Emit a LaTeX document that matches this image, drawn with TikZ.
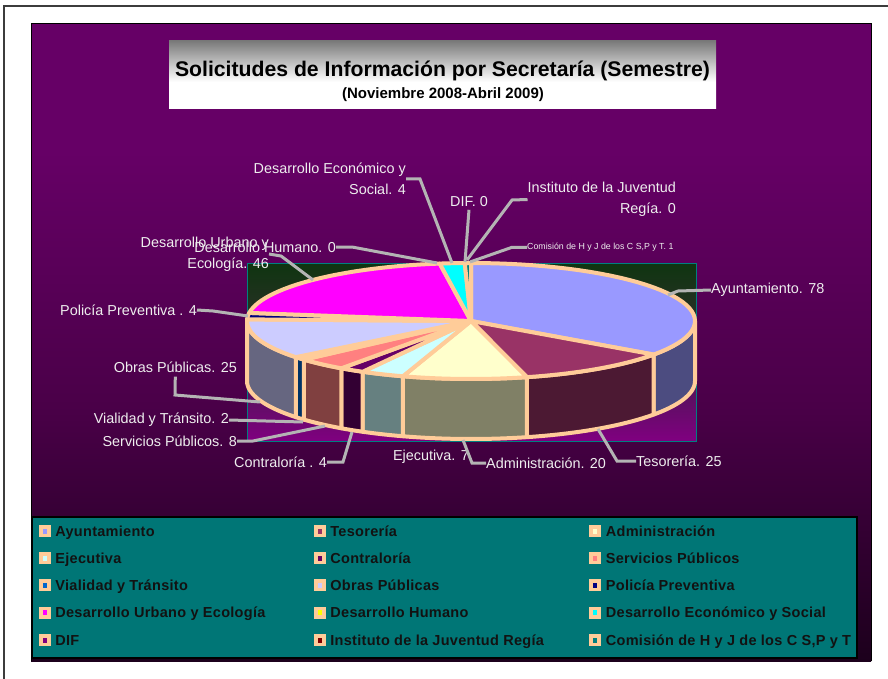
\documentclass[tikz,border=0pt]{standalone}
\usepackage{fontspec}
\setmainfont{Liberation Sans}
\newfontfamily\legfont[LetterSpace=2]{Liberation Sans}
\usetikzlibrary{positioning}

\definecolor{peach}{HTML}{FFCC99}
\definecolor{leadgray}{HTML}{B4B4B4}
\definecolor{lbltext}{HTML}{EEEEEE}
\definecolor{legtext}{HTML}{121212}
\definecolor{legteal}{HTML}{007676}
\definecolor{framegray}{HTML}{3C3C3C}
\definecolor{bgtop}{HTML}{660066}
\definecolor{bgmid}{HTML}{4A0048}
\definecolor{bgbot}{HTML}{1C001C}
\definecolor{ptop}{HTML}{0F3510}
\definecolor{pmid}{HTML}{302E2C}
\definecolor{plow}{HTML}{5A1060}
\definecolor{pbot}{HTML}{800080}
\definecolor{ttop}{HTML}{7A7A7A}

\definecolor{cAyu}{HTML}{9999FF} \definecolor{sAyu}{HTML}{4C4C80}
\definecolor{cTes}{HTML}{993366} \definecolor{sTes}{HTML}{4C1933}
\definecolor{cAdm}{HTML}{FFFFCC} \definecolor{sAdm}{HTML}{808066}
\definecolor{cEje}{HTML}{CCFFFF} \definecolor{sEje}{HTML}{668080}
\definecolor{cCon}{HTML}{660066} \definecolor{sCon}{HTML}{330033}
\definecolor{cSer}{HTML}{FF8080} \definecolor{sSer}{HTML}{804040}
\definecolor{cVia}{HTML}{0066CC} \definecolor{sVia}{HTML}{003366}
\definecolor{cObr}{HTML}{CCCCFF} \definecolor{sObr}{HTML}{666680}
\definecolor{cPol}{HTML}{000080}
\definecolor{cDUr}{HTML}{FF00FF}
\definecolor{cDHu}{HTML}{FFFF00}
\definecolor{cDEc}{HTML}{00FFFF}
\definecolor{cDIF}{HTML}{800080}
\definecolor{cIns}{HTML}{800000}
\definecolor{cCom}{HTML}{008080}

\pgfdeclareverticalshading{chartbg}{100bp}{color(0bp)=(bgbot); color(25bp)=(bgbot); color(45bp)=(bgmid); color(65bp)=(bgtop); color(100bp)=(bgtop)}
\pgfdeclareverticalshading{plotbg}{100bp}{color(0bp)=(pbot); color(25bp)=(pbot); color(38bp)=(plow); color(55bp)=(pmid); color(75bp)=(ptop); color(100bp)=(ptop)}
\pgfdeclareverticalshading{titlebg}{100bp}{color(0bp)=(white); color(25bp)=(white); color(45bp)=(white); color(75bp)=(ttop); color(100bp)=(ttop)}

\begin{document}
\begin{tikzpicture}[x=1pt, y=-1pt,
  slice/.style = {draw=peach, line width=4pt, line join=round},
  leader/.style = {draw=leadgray, line width=3pt},
  lbl/.style = {font=\fontsize{14.4}{21}\selectfont, text=lbltext, inner sep=0pt},
  legsw/.style = {fill=peach, minimum width=12pt, minimum height=12pt, inner sep=0pt,
    path picture={\fill[#1] ([xshift=-2pt,yshift=-2.5pt]path picture bounding box.center) rectangle ++(4pt,5pt);}},
  legtxt/.style = {font=\legfont\bfseries\fontsize{14.5}{16}\selectfont, text=legtext, inner sep=0pt,
    text height=11pt, text depth=0.6pt}]

\useasboundingbox (0,0) rectangle (888,679);
\fill[white] (0,0) rectangle (888,679);
\draw[framegray, line width=1.5pt] (4,679) -- (4,6) -- (888,6);

% chart area
\shade[shading=chartbg] (31,24) rectangle (871,661);
\draw[black, line width=1pt] (31,661) -- (31,24) -- (871,24) -- (871,661);

% title
\shade[shading=titlebg] (169,41) rectangle (716,109);
\node[font=\bfseries\fontsize{21.2}{24}\selectfont, inner sep=0pt] (title) at (442.5,70.5) {Solicitudes de Información por Secretaría (Semestre)};
\node[font=\bfseries\fontsize{15}{17}\selectfont, inner sep=0pt] (subtitle) at (443,95) {(Noviembre 2008-Abril 2009)};

% plot area
\shade[shading=plotbg] (247,263) rectangle (696,441);
\draw[cCom, line width=0.8pt] (247,263) rectangle (696,441);

% pie sides
\filldraw[slice, fill=sAyu] plot[domain=-35.36:0, samples=20] ({471+224*cos(\x)}, {321-58*sin(\x)}) -- plot[domain=0:-35.36, samples=20] ({471+224*cos(\x)}, {381-58*sin(\x)}) -- cycle;
\filldraw[slice, fill=sTes] plot[domain=-75.54:-35.36, samples=20] ({471+224*cos(\x)}, {321-58*sin(\x)}) -- plot[domain=-35.36:-75.54, samples=20] ({471+224*cos(\x)}, {381-58*sin(\x)}) -- cycle;
\filldraw[slice, fill=sAdm] plot[domain=-107.68:-75.54, samples=20] ({471+224*cos(\x)}, {321-58*sin(\x)}) -- plot[domain=-75.54:-107.68, samples=20] ({471+224*cos(\x)}, {381-58*sin(\x)}) -- cycle;
\filldraw[slice, fill=sEje] plot[domain=-118.93:-107.68, samples=8] ({471+224*cos(\x)}, {321-58*sin(\x)}) -- plot[domain=-107.68:-118.93, samples=8] ({471+224*cos(\x)}, {381-58*sin(\x)}) -- cycle;
\filldraw[slice, fill=sCon] plot[domain=-125.36:-118.93, samples=6] ({471+224*cos(\x)}, {321-58*sin(\x)}) -- plot[domain=-118.93:-125.36, samples=6] ({471+224*cos(\x)}, {381-58*sin(\x)}) -- cycle;
\filldraw[slice, fill=sSer] plot[domain=-138.22:-125.36, samples=8] ({471+224*cos(\x)}, {321-58*sin(\x)}) -- plot[domain=-125.36:-138.22, samples=8] ({471+224*cos(\x)}, {381-58*sin(\x)}) -- cycle;
\filldraw[slice, fill=sVia] plot[domain=-141.43:-138.22, samples=4] ({471+224*cos(\x)}, {321-58*sin(\x)}) -- plot[domain=-138.22:-141.43, samples=4] ({471+224*cos(\x)}, {381-58*sin(\x)}) -- cycle;
\filldraw[slice, fill=sObr] plot[domain=-180:-141.43, samples=20] ({471+224*cos(\x)}, {321-58*sin(\x)}) -- plot[domain=-141.43:-180, samples=20] ({471+224*cos(\x)}, {381-58*sin(\x)}) -- cycle;

% pie tops
\coordinate (pc) at (471,321);
\filldraw[slice, fill=cAyu] (pc) -- plot[domain=-35.36:90, samples=40] ({471+224*cos(\x)}, {321-58*sin(\x)}) -- cycle;
\filldraw[slice, fill=cTes] (pc) -- plot[domain=-75.54:-35.36, samples=20] ({471+224*cos(\x)}, {321-58*sin(\x)}) -- cycle;
\filldraw[slice, fill=cAdm] (pc) -- plot[domain=-107.68:-75.54, samples=20] ({471+224*cos(\x)}, {321-58*sin(\x)}) -- cycle;
\filldraw[slice, fill=cEje] (pc) -- plot[domain=-118.93:-107.68, samples=8] ({471+224*cos(\x)}, {321-58*sin(\x)}) -- cycle;
\filldraw[slice, fill=cCon] (pc) -- plot[domain=-125.36:-118.93, samples=6] ({471+224*cos(\x)}, {321-58*sin(\x)}) -- cycle;
\filldraw[slice, fill=cSer] (pc) -- plot[domain=-138.22:-125.36, samples=8] ({471+224*cos(\x)}, {321-58*sin(\x)}) -- cycle;
\filldraw[slice, fill=cVia] (pc) -- plot[domain=-141.43:-138.22, samples=4] ({471+224*cos(\x)}, {321-58*sin(\x)}) -- cycle;
\filldraw[slice, fill=cObr] (pc) -- plot[domain=-181.61:-141.43, samples=20] ({471+224*cos(\x)}, {321-58*sin(\x)}) -- cycle;
\filldraw[slice, fill=cPol] (pc) -- plot[domain=-188.04:-181.61, samples=6] ({471+224*cos(\x)}, {321-58*sin(\x)}) -- cycle;
\filldraw[slice, fill=cDUr] (pc) -- plot[domain=-261.97:-188.04, samples=30] ({471+224*cos(\x)}, {321-58*sin(\x)}) -- cycle;
\filldraw[slice, fill=cDEc] (pc) -- plot[domain=-268.4:-261.97, samples=6] ({471+224*cos(\x)}, {321-58*sin(\x)}) -- cycle;
\filldraw[slice, fill=cCom] (pc) -- plot[domain=-270:-268.4, samples=3] ({471+224*cos(\x)}, {321-58*sin(\x)}) -- cycle;

% labels
\node[lbl, anchor=west] (lAyu) at (711,290) {Ayuntamiento. 78};
\node[lbl, anchor=west] (lTes) at (636,461) {Tesorería. 25};
\node[lbl, anchor=west] (lAdm) at (486,463) {Administración. 20};
\node[lbl, anchor=east] (lEje) at (469,457) {Ejecutiva. 7};
\node[lbl, anchor=east] (lCon) at (327,462) {Contraloría . 4};
\node[lbl, anchor=east] (lSer) at (237,441) {Servicios Públicos. 8};
\node[lbl, anchor=east] (lVia) at (229,420) {Vialidad y Tránsito. 2};
\node[lbl, anchor=east] (lObr) at (237,367) {Obras Públicas. 25};
\node[lbl, anchor=east] (lPol) at (197,310) {Policía Preventiva . 4};
\node[lbl, anchor=east, align=right] (lDUr) at (269,254) {Desarrollo Urbano y\\Ecología. 46};
\node[lbl, anchor=east] (lDHu) at (336,247) {Desarrollo Humano. 0};
\node[lbl, anchor=east, align=right] (lDEc) at (406,179) {Desarrollo Económico y\\Social. 4};
\node[lbl] (lDIF) at (469,201.5) {DIF. 0};
\node[lbl, anchor=east, align=right] (lIns) at (676,199.5) {Instituto de la Juventud\\Regía. 0};
\node[lbl, anchor=west, font=\fontsize{8.8}{10}\selectfont] (lCom) at (527,247.3) {Comisión de H y J de los C S,P y T. 1};

% leaders
\coordinate (pAyu) at (668,295);
\coordinate (pTes) at (598,429);
\coordinate (pAdm) at (463,440);
\coordinate (pCon) at (352,432);
\coordinate (pSer) at (325,426);
\coordinate (pVia) at (303,422);
\coordinate (pObr) at (260,402);
\coordinate (pPol) at (248,316);
\coordinate (pDUr) at (313,280);
\coordinate (pDHu) at (437,263);
\coordinate (pDEc) at (452,263);
\coordinate (pDIF) at (465,262);
\coordinate (pIns) at (467,260);
\coordinate (pCom) at (470,262);
\draw[leader] (pAyu) -- (678,291) -- (lAyu.west);
\draw[leader] (pTes) -- (617,461) -- (lTes.west);
\draw[leader] (pAdm) -- (472,463) -- (lAdm.west);
\draw[leader] (pCon) -- (343,462) -- (lCon.east);
\draw[leader] (pSer) -- (253,441) -- (lSer.east);
\draw[leader] (pVia) -- (lVia.east);
\draw[leader] (pObr) -- (175,395) -- ([yshift=-4pt]lObr.south);
\draw[leader] (pPol) -- (213,311) -- (lPol.east);
\draw[leader] (pDUr) -- (281,256) -- (lDUr.east);
\draw[leader] (pDHu) -- (352,247) -- (lDHu.east);
\draw[leader] (pDEc) -- (420,179) -- (lDEc.east);
\draw[leader] (pDIF) -- ([yshift=-3pt]lDIF.south);
\draw[leader] (pIns) -- (512,200) -- (lIns.west);
\draw[leader] (pCom) -- (512,247.3) -- (lCom.west);

% legend
\draw[fill=legteal, line width=1.5pt] (32,517) rectangle (857,658);
\node[legsw=cAyu] (sw1) at (44.5,531) {};
\node[legsw=cTes] (sw2) at (319.5,531) {};
\node[legsw=cAdm] (sw3) at (595,531) {};
\node[legsw=cEje] (sw4) at (44.5,558) {};
\node[legsw=cCon] (sw5) at (319.5,558) {};
\node[legsw=cSer] (sw6) at (595,558) {};
\node[legsw=cVia] (sw7) at (44.5,585) {};
\node[legsw=cObr] (sw8) at (319.5,585) {};
\node[legsw=cPol] (sw9) at (595,585) {};
\node[legsw=cDUr] (sw10) at (44.5,612.5) {};
\node[legsw=cDHu] (sw11) at (319.5,612.5) {};
\node[legsw=cDEc] (sw12) at (595,612.5) {};
\node[legsw=cDIF] (sw13) at (44.5,640) {};
\node[legsw=cIns] (sw14) at (319.5,640) {};
\node[legsw=cCom] (sw15) at (595,640) {};
\node[legtxt, right=4.5pt of sw1] (lg1) {Ayuntamiento};
\node[legtxt, right=4.5pt of sw2] (lg2) {Tesorería};
\node[legtxt, right=4.5pt of sw3] (lg3) {Administración};
\node[legtxt, right=4.5pt of sw4] (lg4) {Ejecutiva};
\node[legtxt, right=4.5pt of sw5] (lg5) {Contraloría};
\node[legtxt, right=4.5pt of sw6] (lg6) {Servicios Públicos};
\node[legtxt, right=4.5pt of sw7] (lg7) {Vialidad y Tránsito};
\node[legtxt, right=4.5pt of sw8] (lg8) {Obras Públicas};
\node[legtxt, right=4.5pt of sw9] (lg9) {Policía Preventiva};
\node[legtxt, right=4.5pt of sw10] (lg10) {Desarrollo Urbano y Ecología};
\node[legtxt, right=4.5pt of sw11] (lg11) {Desarrollo Humano};
\node[legtxt, right=4.5pt of sw12] (lg12) {Desarrollo Económico y Social};
\node[legtxt, right=4.5pt of sw13] (lg13) {DIF};
\node[legtxt, right=4.5pt of sw14] (lg14) {Instituto de la Juventud Regía};
\node[legtxt, right=4.5pt of sw15] (lg15) {Comisión de H y J de los C S,P y T};
\end{tikzpicture}
\end{document}
